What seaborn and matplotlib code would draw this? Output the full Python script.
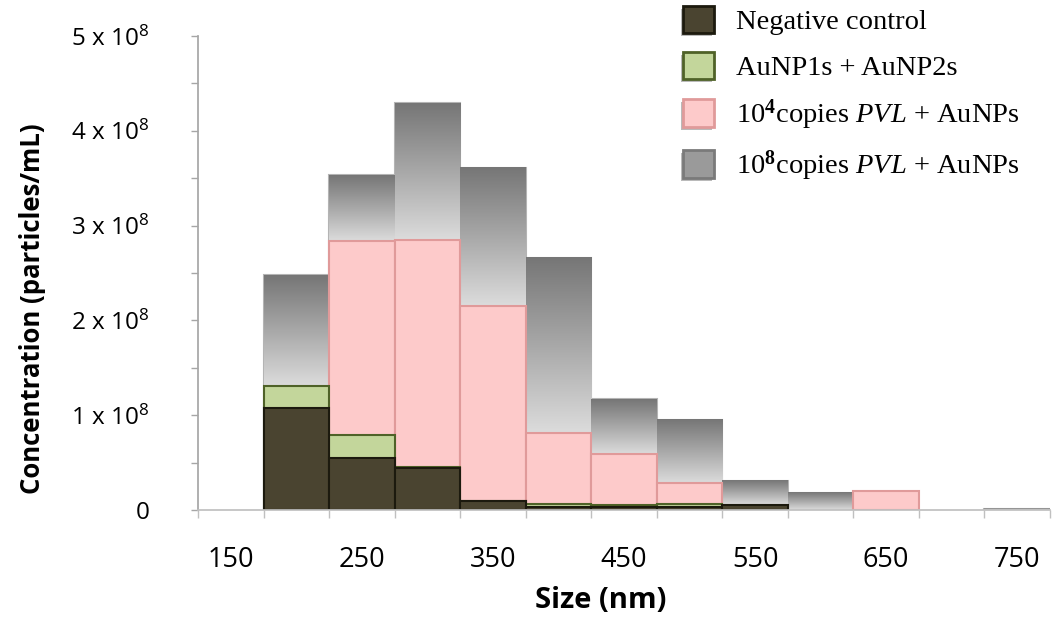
import numpy as np
import pandas as pd
import matplotlib
matplotlib.use("Agg")
import matplotlib.pyplot as plt
import matplotlib.patheffects as pe
from matplotlib.patches import Patch
from matplotlib.ticker import MultipleLocator
from matplotlib.colors import LinearSegmentedColormap
import seaborn as sns

# size bins (nm) and stacked segment heights, in units of 1e8 particles/mL
sizes = ["150", "200", "250", "300", "350", "400", "450",
         "500", "550", "600", "650", "700", "750"]
neg_control = [0, 1.08, 0.55, 0.44, 0.09, 0.03, 0.03, 0.03, 0.05, 0, 0, 0, 0]
aunp_pair = [0, 0.23, 0.24, 0.01, 0.01, 0.03, 0.02, 0.03, 0, 0, 0, 0, 0]
pvl_1e4 = [0, 0, 2.05, 2.40, 2.05, 0.75, 0.54, 0.22, 0, 0, 0.20, 0, 0]
pvl_1e8 = [0, 1.17, 0.69, 1.44, 1.46, 1.85, 0.58, 0.67, 0.255, 0.18, 0, 0, 0.015]

series_names = ["Negative control",
                "AuNP1s + AuNP2s",
                r"10$^{\mathbf{4}}$copies $\mathit{PVL}$ + AuNPs",
                r"10$^{\mathbf{8}}$copies $\mathit{PVL}$ + AuNPs"]
x_tick_labels = ["150", "250", "350", "450", "550", "650", "750"]
y_tick_labels = ["0", "1 x 10$^{8}$", "2 x 10$^{8}$", "3 x 10$^{8}$",
                 "4 x 10$^{8}$", "5 x 10$^{8}$"]

face_colors = ["#4a4430", "#c3d69b", "#fdcaca", "#9a9a9a"]
edge_colors = ["#1c1a0e", "#4f6228", "#e09a9a", "#b4b4b4"]

sns.set_theme(style="white")
plt.rcParams["font.family"] = ["Open Sans", "DejaVu Sans"]
plt.rcParams["mathtext.fontset"] = "custom"
plt.rcParams["mathtext.default"] = "regular"
plt.rcParams["mathtext.it"] = "Liberation Serif:italic"
plt.rcParams["mathtext.bf"] = "Liberation Serif:bold"
plt.rcParams["text.color"] = "black"

segments = np.array([neg_control, aunp_pair, pvl_1e4, pvl_1e8]) * 1e8
stack_tops = np.cumsum(segments, axis=0)

fig, ax = plt.subplots(figsize=(10.6, 6.23), dpi=100)
fig.subplots_adjust(left=198 / 1060, right=1050 / 1060,
                    bottom=1 - 510 / 623, top=1 - 36 / 623)

gray_cmap = LinearSegmentedColormap.from_list("grayfade", ["#767676", "#a8a8a8", "#dcdcdc"])
grad = np.linspace(0, 1, 256).reshape(-1, 1)

# stacked look: draw the cumulative totals from the top layer down
for k in [3, 2, 1, 0]:
    d = pd.DataFrame({"size": sizes, "top": stack_tops[k], "seg": segments[k]})
    d = d[d["seg"] > 0]
    n_before = len(ax.patches)
    sns.barplot(data=d, x="size", y="top", order=sizes, width=1.0,
                color=face_colors[k], edgecolor=edge_colors[k], linewidth=1.5,
                saturation=1, errorbar=None, ax=ax)
    if k == 3:
        for p in ax.patches[n_before:]:
            x0, w = p.get_x(), p.get_width()
            i = int(round(x0 + w / 2))
            ax.imshow(grad, extent=(x0, x0 + w, stack_tops[2][i], p.get_height()),
                      aspect="auto", cmap=gray_cmap, interpolation="bicubic",
                      zorder=p.get_zorder())

ax.set_xlim(-0.5, 12.5)
ax.set_ylim(0, 5e8)

# x axis: ticks between categories, labels on every other bin
ax.set_xticks(np.arange(-0.5, 13.0, 1.0))
ax.set_xticklabels([])
ax.set_xticks(np.arange(0, 13, 2), minor=True)
ax.set_xticklabels(x_tick_labels, minor=True)
ax.tick_params(axis="x", which="major", bottom=True, length=6, width=1,
               color="#c0c0c0", direction="out")
ax.tick_params(axis="x", which="minor", bottom=True, length=0, pad=26,
               labelsize=19.5, labelcolor="black")

ax.set_yticks(np.arange(0, 6) * 1e8)
ax.set_yticklabels(y_tick_labels)
ax.yaxis.set_minor_locator(MultipleLocator(0.5e8))
ax.tick_params(axis="y", which="both", left=True, length=5, width=1,
               color="#a6a6a6", direction="out")
ax.tick_params(axis="y", which="major", pad=30, labelsize=17.5, labelcolor="black")

sns.despine(ax=ax)
ax.spines["left"].set_color("#a6a6a6")
ax.spines["bottom"].set_color("#c0c0c0")

ax.set_xlabel("Size (nm)", fontsize=21, fontweight="bold", color="black")
ax.set_ylabel("Concentration (particles/mL)", fontsize=18.5, fontweight="bold",
              color="black")
ax.xaxis.set_label_coords(0.473, -0.16)
ax.yaxis.set_label_coords(-0.178, 0.424)

shadow = [pe.withSimplePatchShadow(offset=(-1.5, -2), shadow_rgbFace="#777777", alpha=0.5)]
handles = [Patch(facecolor=face_colors[k], edgecolor=edge_colors[k] if k < 3 else "#7a7a7a",
                 linewidth=2, label=series_names[k], path_effects=shadow)
           for k in range(4)]
ax.legend(handles=handles, loc="upper left", bbox_to_anchor=(683 / 1060, 1 - 6 / 623),
          bbox_transform=fig.transFigure, frameon=False,
          prop={"family": "Liberation Serif", "size": 20.5},
          handlelength=1.1, handleheight=1.1, handletextpad=0.75,
          labelspacing=0.58, borderpad=0, borderaxespad=0)

fig.savefig("out.png", dpi=100)
